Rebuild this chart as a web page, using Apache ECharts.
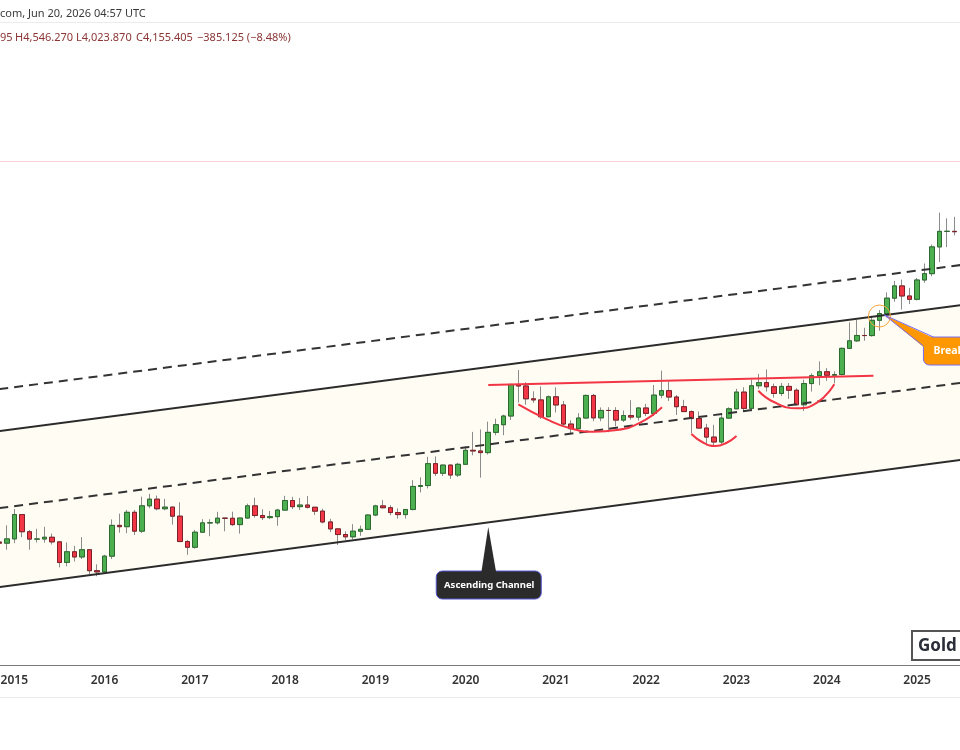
<!DOCTYPE html>
<html>
<head>
<meta charset="utf-8">
<title>Gold monthly - ascending channel</title>
<script src="https://cdn.jsdelivr.net/npm/echarts@6/dist/echarts.min.js"></script>
<style>
  html, body { margin: 0; padding: 0; background: #fff; }
  #main { width: 960px; height: 750px; }
</style>
</head>
<body>
<div id="main"></div>
<script>
// monthly candles, Nov 2014 .. Jun 2025
const firstMonth = [2014, 11]
const monthCount = 131 // a few empty slots after the last candle

const opens = [
  1171.7, 1167.4,
  1184.1, 1283.6, 1212.6, 1183.2, 1183.6, 1190.5, 1172.4, 1095.0, 1134.5, 1115.2, 1142.2, 1065.4,
  1061.1, 1118.0, 1238.4, 1233.1, 1293.4, 1215.0, 1321.6, 1351.1, 1308.8, 1315.9, 1276.9, 1173.7,
  1151.7, 1210.6, 1248.7, 1249.2, 1268.3, 1268.0, 1241.6, 1269.0, 1321.4, 1279.8, 1270.8, 1275.0,
  1302.9, 1345.1, 1317.9, 1325.0, 1315.3, 1298.4, 1252.6, 1224.1, 1201.3, 1192.3, 1214.8, 1222.2,
  1281.7, 1321.2, 1313.2, 1292.3, 1283.6, 1305.6, 1409.4, 1413.7, 1520.3, 1472.5, 1513.0, 1463.9,
  1517.0, 1589.2, 1585.7, 1577.1, 1686.9, 1730.3, 1780.9, 1975.9, 1967.8, 1885.8, 1878.8, 1776.5,
  1898.4, 1847.7, 1734.0, 1707.7, 1769.1, 1906.9, 1770.1, 1814.2, 1813.8, 1757.0, 1783.4, 1774.6,
  1829.2, 1796.6, 1909.0, 1937.3, 1896.9, 1837.1, 1807.3, 1765.9, 1711.1, 1660.6, 1633.6, 1768.6,
  1824.0, 1928.2, 1826.9, 1969.3, 1990.0, 1962.7, 1919.4, 1965.0, 1940.2, 1848.6, 1983.8, 2036.2,
  2062.9, 2039.5, 2044.2, 2229.9, 2286.2, 2327.3, 2326.6, 2447.6, 2503.4, 2634.6, 2743.9, 2653.6,
  2624.3, 2798.4, 2857.8, 3123.8, 3288.9, 3289.2
]
const highs = [
  1208.3, 1238.7,
  1307.7, 1284.6, 1219.8, 1224.5, 1232.4, 1205.2, 1175.0, 1170.2, 1157.2, 1191.4, 1143.4, 1088.0,
  1123.3, 1263.1, 1287.7, 1303.8, 1303.7, 1362.6, 1375.2, 1367.3, 1352.7, 1318.4, 1337.4, 1180.2,
  1220.0, 1264.0, 1263.8, 1295.5, 1270.5, 1296.0, 1270.0, 1331.0, 1357.6, 1306.4, 1299.1, 1308.6,
  1366.1, 1361.6, 1356.2, 1365.3, 1316.1, 1309.0, 1265.9, 1224.6, 1214.3, 1243.5, 1237.6, 1284.7,
  1326.3, 1346.8, 1324.3, 1310.4, 1306.4, 1439.2, 1452.9, 1555.3, 1557.1, 1516.3, 1516.4, 1525.0,
  1611.4, 1689.3, 1703.4, 1747.7, 1765.4, 1789.0, 1984.0, 2075.1, 1992.4, 1933.3, 1965.4, 1906.5,
  1959.3, 1871.6, 1755.6, 1798.0, 1913.0, 1916.6, 1832.4, 1834.0, 1834.0, 1813.8, 1877.2, 1831.6,
  1853.9, 1974.4, 2070.4, 1998.4, 1909.8, 1879.3, 1814.4, 1807.9, 1735.1, 1729.6, 1786.1, 1833.3,
  1949.3, 1959.7, 2009.8, 2048.8, 2079.4, 1983.5, 1987.5, 1987.4, 1953.0, 2009.4, 2052.0, 2135.4,
  2088.5, 2065.6, 2236.0, 2431.4, 2450.1, 2387.8, 2483.7, 2531.6, 2685.6, 2790.1, 2801.8, 2726.3,
  2817.1, 2956.2, 3148.0, 3500.1, 3435.0, 3452.0
]
const lows = [
  1131.9, 1142.0,
  1167.3, 1191.1, 1142.1, 1170.1, 1169.6, 1162.2, 1077.2, 1080.9, 1098.4, 1107.5, 1052.5, 1045.9,
  1060.3, 1107.4, 1208.4, 1206.7, 1199.4, 1207.8, 1310.7, 1301.8, 1302.3, 1241.3, 1171.4, 1122.9,
  1146.2, 1207.6, 1194.5, 1241.8, 1214.3, 1236.1, 1204.9, 1266.0, 1271.0, 1260.7, 1264.3, 1236.6,
  1302.4, 1307.1, 1303.4, 1309.9, 1281.9, 1246.5, 1211.0, 1160.4, 1180.4, 1182.5, 1196.2, 1221.4,
  1276.7, 1310.9, 1280.8, 1266.2, 1266.7, 1301.4, 1381.9, 1400.3, 1459.4, 1458.9, 1445.6, 1454.5,
  1517.0, 1563.1, 1451.2, 1567.3, 1670.6, 1670.9, 1757.4, 1862.8, 1848.8, 1860.3, 1764.3, 1775.3,
  1802.4, 1717.2, 1676.7, 1704.9, 1765.6, 1750.8, 1750.4, 1687.8, 1721.7, 1746.0, 1758.7, 1753.1,
  1780.5, 1780.8, 1890.0, 1872.3, 1787.0, 1805.1, 1681.0, 1709.3, 1614.9, 1617.3, 1616.7, 1765.1,
  1823.0, 1804.8, 1809.4, 1949.8, 1932.1, 1893.0, 1902.8, 1884.9, 1846.1, 1810.5, 1931.7, 1973.2,
  2001.9, 1984.2, 2038.8, 2228.4, 2277.2, 2286.9, 2318.1, 2364.4, 2471.8, 2603.6, 2536.8, 2583.5,
  2614.3, 2772.5, 2832.5, 2970.4, 3120.8, 3245.0
]
const closes = [
  1167.4, 1184.1,
  1283.6, 1212.6, 1183.2, 1183.6, 1190.5, 1172.4, 1095.0, 1134.5, 1115.2, 1142.2, 1065.4, 1061.1,
  1118.0, 1238.4, 1233.1, 1293.4, 1215.0, 1321.6, 1351.1, 1308.8, 1315.9, 1276.9, 1173.7, 1151.7,
  1210.6, 1248.7, 1249.2, 1268.3, 1268.0, 1241.6, 1269.0, 1321.4, 1279.8, 1270.8, 1275.0, 1302.9,
  1345.1, 1317.9, 1325.0, 1315.3, 1298.4, 1252.6, 1224.1, 1201.3, 1192.3, 1214.8, 1222.2, 1281.7,
  1321.2, 1313.2, 1292.3, 1283.6, 1305.6, 1409.4, 1413.7, 1520.3, 1472.5, 1513.0, 1463.9, 1517.0,
  1589.2, 1585.7, 1577.1, 1686.9, 1730.3, 1780.9, 1975.9, 1967.8, 1885.8, 1878.8, 1776.5, 1898.4,
  1847.7, 1734.0, 1707.7, 1769.1, 1906.9, 1770.1, 1814.2, 1813.8, 1757.0, 1783.4, 1774.6, 1829.2,
  1796.6, 1909.0, 1937.3, 1896.9, 1837.1, 1807.3, 1765.9, 1711.1, 1660.6, 1633.6, 1768.6, 1824.0,
  1928.2, 1826.9, 1969.3, 1990.0, 1962.7, 1919.4, 1965.0, 1940.2, 1848.6, 1983.8, 2036.2, 2062.9,
  2039.5, 2044.2, 2229.9, 2286.2, 2327.3, 2326.6, 2447.6, 2503.4, 2634.6, 2743.9, 2653.6, 2624.3,
  2798.4, 2857.8, 3123.8, 3288.9, 3289.2, 3285.0
]

// drawings, as [month index, price]
const channelLower = [[0, 1008.6], [130, 1550.7]]
const channelUpper = [[0, 1693.8], [130, 2592.3]]
const channelMid = [[0, 1311.4], [130, 2002.5]]
const channelOuter = [[0, 1947.4], [130, 2961.9]]
const resistance = [[65, 1974.2], [116.2, 2036.0]]
const cupBig = [[69.0, 1851.6], [72.8, 1761.5], [75.9, 1709.6], [79.0, 1690.5], [82.1, 1700.1], [85.2, 1741.7], [88.1, 1833.3]]
const cupSmall = [[92.0, 1677.6], [93.6, 1629.7], [95.2, 1612.1], [96.7, 1629.7], [98.0, 1666.4]]
const cupRight = [[100.9, 1937.0], [102.9, 1867.5], [106.0, 1827.0], [108.7, 1861.4], [111.0, 1978.7]]
const channelTag = [65, 1231.7]
const breakoutPoint = [117, 2482.7]
const lastPrice = 4155.405

const headerDate = 'com, Jun 20, 2026 04:57 UTC'
const headerQuote = [['95', 0], ['H4,546.270', 15], ['L4,023.870', 76], ['C4,155.405', 136], ['\u2212385.125 (\u22128.48%)', 197]]

const months = []
for (let i = 0; i < monthCount; i++) {
  const m = firstMonth[1] - 1 + i
  const y = firstMonth[0] + Math.floor(m / 12)
  months.push(y + '-' + String((m % 12) + 1).padStart(2, '0'))
}

const wickData = opens.map((o, i) => [o, closes[i], lows[i], highs[i]])
const bodyData = opens.map((o, i) => [o, closes[i], Math.min(o, closes[i]), Math.max(o, closes[i])])

const font = '"Noto Sans", "DejaVu Sans", sans-serif'

function lineSeries(data, color, type, extra) {
  return Object.assign({
    type: 'line',
    xAxisIndex: 1,
    data: data,
    symbol: 'none',
    silent: true,
    z: 4,
    lineStyle: { color: color, width: 2, type: type }
  }, extra || {})
}

const chart = echarts.init(document.getElementById('main'), null, { renderer: 'canvas' })

const option = {
  animation: false,
  backgroundColor: '#ffffff',
  textStyle: { fontFamily: font },
  grid: { left: -4.5, right: -21, top: 50, bottom: 85, outerBoundsMode: 'none' },
  xAxis: [
    {
      type: 'category',
      data: months,
      boundaryGap: true,
      axisLine: { lineStyle: { color: '#7a7a7a', width: 1 } },
      axisTick: { show: false },
      splitLine: { show: false },
      axisLabel: {
        interval: (i, v) => v.slice(5) === '01',
        formatter: (v) => v.slice(0, 4),
        color: '#333',
        fontSize: 12,
        fontWeight: 600,
        margin: 10,
        hideOverlap: false
      }
    },
    { type: 'value', min: -0.5, max: monthCount - 0.5, show: false }
  ],
  yAxis: { type: 'log', logBase: 10, min: 778.8, max: 6008, show: false, splitLine: { show: false } },
  series: [
    {
      type: 'custom',
      xAxisIndex: 1,
      silent: true,
      z: 0,
      data: [channelLower[0]],
      renderItem: (params, api) => {
        const pts = [channelLower[0], channelLower[1], channelUpper[1], channelUpper[0]].map((p) => api.coord(p))
        return { type: 'polygon', shape: { points: pts }, style: { fill: '#fffcf3' } }
      }
    },
    {
      type: 'candlestick',
      data: wickData,
      barWidth: 5,
      silent: true,
      z: 2,
      itemStyle: { color: '#8c8c8c', color0: '#8c8c8c', borderColor: '#8c8c8c', borderColor0: '#8c8c8c', borderColorDoji: '#8c8c8c', borderWidth: 1 },
      markLine: {
        silent: true,
        symbol: 'none',
        label: { show: false },
        lineStyle: { color: '#f4a3ae', type: 'dotted', width: 1 },
        data: [{ yAxis: lastPrice }]
      }
    },
    {
      type: 'candlestick',
      data: bodyData,
      barWidth: 5,
      silent: true,
      z: 3,
      itemStyle: { color: '#4caf50', color0: '#f23645', borderColor: '#2c6a2f', borderColor0: '#7d2027', borderColorDoji: '#7a3b3b', borderWidth: 1 }
    },
    lineSeries(channelLower, '#2b2b2b', 'solid'),
    lineSeries(channelUpper, '#2b2b2b', 'solid'),
    lineSeries(channelMid, '#333333', [9, 6]),
    lineSeries(channelOuter, '#333333', [9, 6]),
    lineSeries(resistance, '#f23645', 'solid', { z: 5 }),
    lineSeries(cupBig, '#f23645', 'solid', { z: 5, smooth: 0.5 }),
    lineSeries(cupSmall, '#f23645', 'solid', { z: 5, smooth: 0.5 }),
    lineSeries(cupRight, '#f23645', 'solid', { z: 5, smooth: 0.5 }),
    {
      type: 'custom',
      xAxisIndex: 1,
      silent: true,
      z: 6,
      data: [channelTag],
      renderItem: (params, api) => {
        const p = api.coord([api.value(0), api.value(1)])
        return {
          type: 'group', x: p[0], y: p[1],
          children: [
            { type: 'rect', shape: { x: -52, y: 44, width: 105, height: 28, r: 6 }, style: { fill: '#2b2b2b', stroke: '#5656d0', lineWidth: 1 } },
            { type: 'polygon', shape: { points: [[0, 0], [-7, 46], [8, 46]] }, style: { fill: '#2b2b2b' } },
            { type: 'text', style: { text: 'Ascending Channel', x: 1, y: 58, align: 'center', verticalAlign: 'middle', fill: '#ffffff', font: 'bold 9.5px ' + font } }
          ]
        }
      }
    },
    {
      type: 'custom',
      xAxisIndex: 1,
      silent: true,
      z: 6,
      data: [breakoutPoint],
      renderItem: (params, api) => {
        const p = api.coord([api.value(0), api.value(1)])
        return {
          type: 'group', x: p[0], y: p[1],
          children: [
            { type: 'circle', shape: { cx: 0, cy: 0, r: 11 }, style: { fill: 'none', stroke: '#f5a33a', lineWidth: 1 } },
            { type: 'rect', shape: { x: 44, y: 21, width: 90, height: 28, r: 6 }, style: { fill: '#ff9800', stroke: '#7a6cf0', lineWidth: 1 } },
            { type: 'polygon', shape: { points: [[5, -1], [54, 22], [44, 31]] }, style: { fill: '#ff9800' } },
            { type: 'polyline', shape: { points: [[54, 21], [5, -1], [44, 30]] }, style: { fill: 'none', stroke: '#7a6cf0', lineWidth: 1 } },
            { type: 'text', style: { text: 'Breakout', x: 54, y: 35, align: 'left', verticalAlign: 'middle', fill: '#ffffff', font: 'bold 10.5px ' + font } }
          ]
        }
      }
    }
  ],
  graphic: [
    { type: 'line', shape: { x1: 0, y1: 22.5, x2: 960, y2: 22.5 }, style: { stroke: '#ececec', lineWidth: 1 }, silent: true },
    { type: 'line', shape: { x1: 0, y1: 697.5, x2: 960, y2: 697.5 }, style: { stroke: '#ececec', lineWidth: 1 }, silent: true },
    { type: 'text', x: 0, y: 14, style: { text: headerDate, fill: '#3a3a3a', font: '11px ' + font, verticalAlign: 'middle' }, silent: true },
    ...headerQuote.map(([t, x]) => ({ type: 'text', x: x, y: 38, style: { text: t, fill: '#8b3535', font: '11px ' + font, verticalAlign: 'middle' }, silent: true })),
    { type: 'rect', shape: { x: 912, y: 631, width: 80, height: 29 }, style: { fill: '#ffffff', stroke: '#555555', lineWidth: 2 }, silent: true },
    { type: 'text', x: 918, y: 646, style: { text: 'Gold', fill: '#2a2e39', font: 'bold 17px ' + font, verticalAlign: 'middle' }, silent: true }
  ]
}

chart.setOption(option)
</script>
</body>
</html>
